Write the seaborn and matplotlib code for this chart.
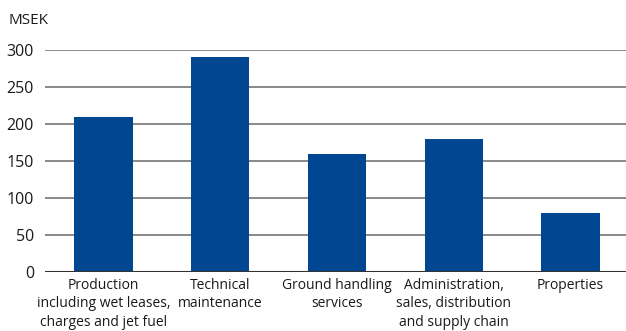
import matplotlib
matplotlib.use("Agg")
import matplotlib.pyplot as plt
import seaborn as sns
import pandas as pd

categories = [
    "Production\nincluding wet leases,\ncharges and jet fuel",
    "Technical\nmaintenance",
    "Ground handling\nservices",
    "Administration,\nsales, distribution\nand supply chain",
    "Properties",
]
values = [210, 290, 160, 180, 80]
yticks = [0, 50, 100, 150, 200, 250, 300]

df = pd.DataFrame({"category": categories, "value": values})

sns.set_theme(style="white")
plt.rcParams["font.family"] = ["Open Sans", "DejaVu Sans"]

fig = plt.figure(figsize=(6.26, 3.31), dpi=100)
ax = fig.add_axes([45 / 626, 1 - 272 / 331, 584 / 626, 222 / 331])

ax.set_axisbelow(True)
for t in yticks[1:]:
    ax.axhline(t, color="#808080", lw=1.3, zorder=0)
ax.axhline(0, color="#333333", lw=1.5, zorder=3)

sns.barplot(data=df, x="category", y="value", color="#004691", width=0.5,
            saturation=1, linewidth=0, ax=ax, zorder=2)

ax.set_ylim(0, 300)
ax.set_xlim(-0.5, 4.5)
ax.set_yticks(yticks)
ax.set_yticklabels([str(t) for t in yticks], fontsize=11.5, color="#1a1a1a")
ax.tick_params(axis="y", length=0, pad=8)
ax.tick_params(axis="x", length=0, pad=4)
for lbl in ax.get_xticklabels():
    lbl.set_fontsize(10)
    lbl.set_color("#1a1a1a")
    lbl.set_linespacing(1.35)
    lbl.set_verticalalignment("top")
ax.set_xlabel("")
ax.set_ylabel("")
for s in ax.spines.values():
    s.set_visible(False)

fig.text(8 / 626, 1 - 20 / 331, "MSEK", fontsize=11, color="#1a1a1a", va="center", ha="left")

fig.savefig("out.png", dpi=100, facecolor="white")
